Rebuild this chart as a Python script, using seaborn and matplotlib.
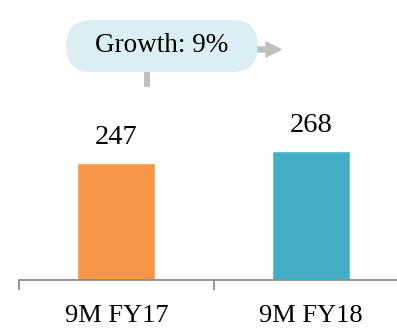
import matplotlib
matplotlib.use("Agg")
import matplotlib.pyplot as plt
import matplotlib.patches as mpatches
from matplotlib.transforms import IdentityTransform
import seaborn as sns
import pandas as pd

categories = ["9M FY17", "9M FY18"]
values = [247, 268]
growth_label = "Growth: 9%"
colors = ["#f79646", "#42afc6"]

sns.set_style("white")
plt.rcParams["font.family"] = ["Liberation Serif", "DejaVu Serif"]
plt.rcParams["text.color"] = "black"
plt.rcParams["xtick.color"] = "black"

W, H = 397, 329
fig = plt.figure(figsize=(W / 100, H / 100), dpi=100)
ax = fig.add_axes([19 / W, 49 / H, (408.5 - 19) / W, 280 / H])

df = pd.DataFrame({"cat": categories, "val": values})
sns.barplot(data=df, x="cat", y="val", hue="cat", palette=colors, width=0.40,
            legend=False, ax=ax, saturation=1)

ax.set_xlim(-0.5, 1.5)
ax.set_ylim(42, 532)
ax.set_xlabel("")
ax.set_ylabel("")
ax.set_yticks([])
for s in ["top", "right", "left"]:
    ax.spines[s].set_visible(False)
ax.spines["bottom"].set_color("#8c8c8c")
ax.spines["bottom"].set_linewidth(1.3)

ax.set_xticks([0, 1])
ax.set_xticklabels(categories, fontsize=19, color="black")
ax.tick_params(axis="x", which="major", bottom=True, length=0, pad=18,
               labelcolor="black")
ax.set_xticks([-0.5, 0.5, 1.5], minor=True)
ax.tick_params(axis="x", which="minor", bottom=True, length=7, width=1.3,
               color="#8c8c8c", direction="out")

for p in ax.patches:
    h = p.get_height()
    if h != h or h == 0:
        continue
    ax.annotate(f"{h:.0f}", (p.get_x() + p.get_width() / 2, h),
                xytext=(0, 9), textcoords="offset points",
                ha="center", va="bottom", fontsize=20.5, color="black")

tr = IdentityTransform()
box = mpatches.FancyBboxPatch((66, H - 72), 192, 52,
                              boxstyle="round,pad=0,rounding_size=26",
                              transform=tr, facecolor="#daeef3", edgecolor="none")
fig.patches.append(box)
fig.text(162, H - 46, growth_label, transform=tr, fontsize=19.5,
         ha="center", va="center", color="black")
stub = mpatches.Rectangle((144, H - 87), 6, 15, transform=tr,
                          facecolor="#bfbfbf", edgecolor="none")
fig.patches.append(stub)
arrow = mpatches.FancyArrow(258, H - 49.5, 23, 0, width=5, head_width=15,
                            head_length=15, length_includes_head=True,
                            transform=tr, color="#bfbfbf")
fig.patches.append(arrow)

fig.savefig("out.png", dpi=100)
